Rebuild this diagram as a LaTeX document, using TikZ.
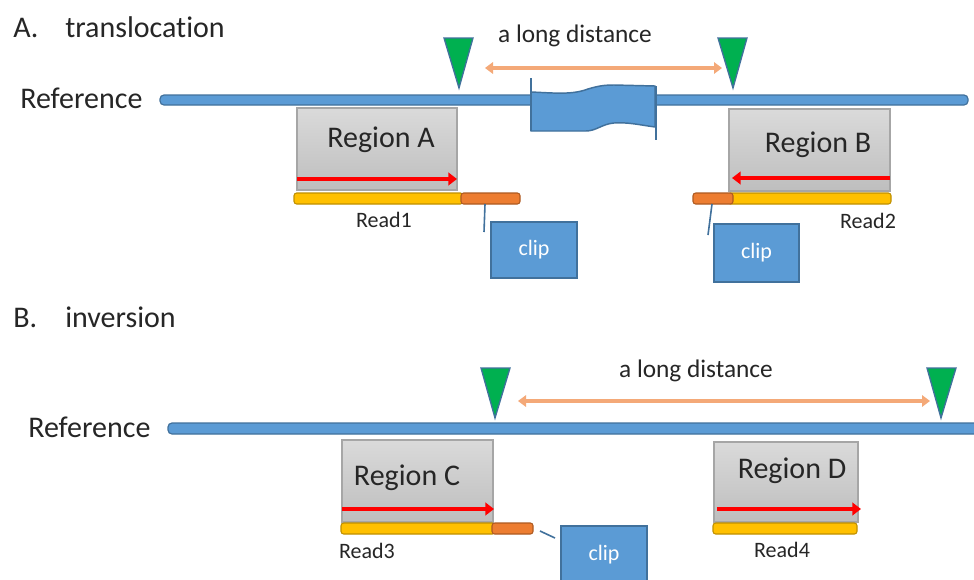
\documentclass[tikz,border=0pt]{standalone}
\usepackage{fontspec}
\setmainfont[Ligatures=NoCommon]{Carlito}
\usetikzlibrary{arrows.meta,fit}
\definecolor{refblue}{HTML}{5B9BD5}
\definecolor{refedge}{HTML}{41719C}
\definecolor{mkgreen}{HTML}{00B050}
\definecolor{distor}{HTML}{F4A978}
\definecolor{readyel}{HTML}{FFC000}
\definecolor{readedge}{HTML}{BF9000}
\definecolor{cliporg}{HTML}{ED7D31}
\definecolor{clipedge}{HTML}{AE5A21}
\definecolor{regtop}{HTML}{DADADA}
\definecolor{regbot}{HTML}{BEBEBE}
\definecolor{regedge}{HTML}{A6A6A6}
\definecolor{txt}{HTML}{262626}
\begin{document}
\begin{tikzpicture}[x=0.75pt,y=-0.75pt,
  refbar/.style={fill=refblue,draw=refedge,line width=0.9pt,rounded corners=3pt,inner sep=0pt},
  regionbox/.style={top color=regtop,bottom color=regbot,draw=regedge,line width=0.8pt,inner sep=0pt},
  readbar/.style={fill=readyel,draw=readedge,line width=0.8pt,rounded corners=2pt,inner sep=0pt},
  clipseg/.style={fill=cliporg,draw=clipedge,line width=0.8pt,rounded corners=2pt,inner sep=0pt},
  clipbox/.style={fill=refblue,draw=refedge,line width=1pt,inner sep=0pt},
  marker/.style={fill=mkgreen,draw=refedge,line width=1pt,line join=miter},
  wave/.style={fill=refblue,draw=refedge,line width=1.1pt},
  waveline/.style={draw=refedge,line width=1.1pt},
  distarrow/.style={draw=distor,line width=2.8pt,{Triangle[length=6pt,width=8.5pt]}-{Triangle[length=6pt,width=8.5pt]}},
  redarrow/.style={draw=red,line width=3.7pt,-{Triangle[length=6.5pt,width=9.5pt]}},
  clipline/.style={draw=refedge,line width=1.2pt},
  bigtext/.style={font=\fontsize{22.5}{26}\selectfont,text=txt,inner sep=0pt},
  disttext/.style={font=\fontsize{19}{22}\selectfont,text=txt,inner sep=0pt},
  smalltext/.style={font=\fontsize{16.5}{19}\selectfont,text=txt,inner sep=0pt},
  cliptext/.style={font=\fontsize{16.5}{19}\selectfont,text=white,inner sep=0pt}]
\useasboundingbox (0,0) rectangle (974,579);
\fill[white] (0,0) rectangle (974,579);

% ---------------- A. translocation ----------------
\node[bigtext,anchor=base west] (titA) at (13,37) {A.};
\node[bigtext,anchor=base west] (titAt) at (65,37) {translocation};
\node[bigtext,anchor=base west] (refA) at (20,108) {Reference};
\node[refbar,fit={(160,95) (968,105)}] (barA) {};

% inserted segment (wave)
\filldraw[wave] (531,92) .. controls (555,93) and (572,95) .. (588,89)
  .. controls (598,86) and (604,85) .. (614,85) -- (655,86) -- (655,127)
  .. controls (640,125) and (628,122) .. (614,123)
  .. controls (602,124) and (596,131) .. (586,131) -- (531,131) -- cycle;
\draw[waveline] (531,78) -- (531,131);
\draw[waveline] (656,86) -- (656,140);

% breakpoint markers
\filldraw[marker] (444,38) -- (473,38) -- (459,88) -- cycle;
\filldraw[marker] (718,38) -- (747,38) -- (733,88) -- cycle;

\coordinate (dA1) at (485,68);
\coordinate (dA2) at (722,68);
\draw[distarrow] (dA1) -- (dA2);
\node[disttext,anchor=base] (distA) at (575,42) {a long distance};

% Region A
\node[regionbox,fit={(297,108) (457,190)}] (regA) {};
\node[bigtext,anchor=base] (regAt) at (381,147) {Region A};
\coordinate (rA1) at (297,179);
\coordinate (rA2) at (457,179);
\draw[redarrow] (rA1) -- (rA2);
\node[readbar,fit={(294,193) (463,204)}] (read1) {};
\node[clipseg,fit={(461,193) (520,204)}] (clip1) {};
\node[smalltext,anchor=base] (read1t) at (384,227) {Read1};
\node[clipbox,fit={(491,222) (577,278)}] (clipA) {};
\node[cliptext] (clipAt) at (clipA.center) {clip};
\coordinate (lA1) at (485,204);
\coordinate (lA2) at (484,232);
\draw[clipline] (lA1) -- (lA2);

% Region B
\node[regionbox,fit={(729,109) (890,191)}] (regB) {};
\node[bigtext,anchor=base] (regBt) at (818,152) {Region B};
\coordinate (rB1) at (890,178);
\coordinate (rB2) at (732,178);
\draw[redarrow] (rB1) -- (rB2);
\node[readbar,fit={(728,193) (891,204)}] (read2) {};
\node[clipseg,fit={(693,193) (733,204)}] (clip2) {};
\node[smalltext,anchor=base] (read2t) at (868,228) {Read2};
\node[clipbox,fit={(714,224) (799,282)}] (clipB) {};
\node[cliptext] (clipBt) at (clipB.center) {clip};
\coordinate (lB1) at (712,204);
\coordinate (lB2) at (708,235);
\draw[clipline] (lB1) -- (lB2);

% ---------------- B. inversion ----------------
\node[bigtext,anchor=base west] (titB) at (13,327) {B.};
\node[bigtext,anchor=base west] (titBt) at (65,327) {inversion};
\node[bigtext,anchor=base west] (refB) at (28,437) {Reference};
\node[refbar,fit={(168,423) (990,434)}] (barB) {};

\filldraw[marker] (481,368) -- (510,368) -- (495,418) -- cycle;
\filldraw[marker] (927,368) -- (956,368) -- (941,418) -- cycle;

\coordinate (dB1) at (518,401);
\coordinate (dB2) at (930,401);
\draw[distarrow] (dB1) -- (dB2);
\node[disttext,anchor=base] (distB) at (696,377) {a long distance};

% Region C
\node[regionbox,fit={(342,440) (493,522)}] (regC) {};
\node[bigtext,anchor=base] (regCt) at (407,485) {Region C};
\coordinate (rC1) at (342,509);
\coordinate (rC2) at (494,509);
\draw[redarrow] (rC1) -- (rC2);
\node[readbar,fit={(341,523) (495,534)}] (read3) {};
\node[clipseg,fit={(492,523) (533,534)}] (clip3) {};
\node[smalltext,anchor=base] (read3t) at (367,558) {Read3};
\node[clipbox,fit={(561,526) (647,586)}] (clipC) {};
\node[cliptext] (clipCt) at (604,555) {clip};
\coordinate (lC1) at (540,531);
\coordinate (lC2) at (555,538);
\draw[clipline] (lC1) -- (lC2);

% Region D
\node[regionbox,fit={(714,442) (858,522)}] (regD) {};
\node[bigtext,anchor=base] (regDt) at (792,478) {Region D};
\coordinate (rD1) at (717,509);
\coordinate (rD2) at (861,509);
\draw[redarrow] (rD1) -- (rD2);
\node[readbar,fit={(713,523) (857,534)}] (read4) {};
\node[smalltext,anchor=base] (read4t) at (782,557) {Read4};
\end{tikzpicture}
\end{document}
